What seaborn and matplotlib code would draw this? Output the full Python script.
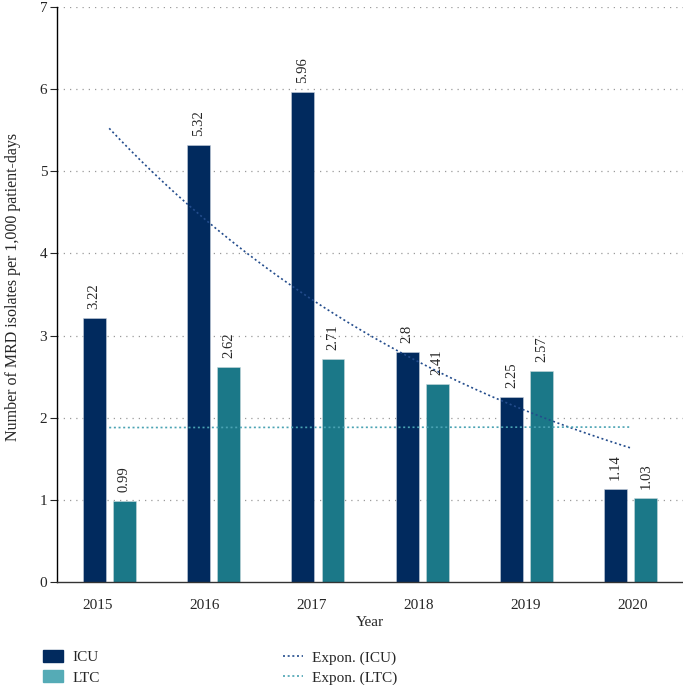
import numpy as np
import pandas as pd
import matplotlib.pyplot as plt
import seaborn as sns
from matplotlib.patches import Patch
from matplotlib.lines import Line2D

years = ["2015", "2016", "2017", "2018", "2019", "2020"]
icu = [3.22, 5.32, 5.96, 2.8, 2.25, 1.14]
ltc = [0.99, 2.62, 2.71, 2.41, 2.57, 1.03]

ICU_COL = "#012a5e"
LTC_COL = "#1b7888"
LTC_LEG = "#55abb6"
DOTS = (0, (1.2, 1.6))

sns.set_theme(style="white")
plt.rcParams["font.family"] = ["Liberation Serif", "DejaVu Serif"]

fig = plt.figure(figsize=(6.83, 6.85), dpi=100)
ax = fig.add_axes([0.0835, 0.150, 0.9165, 0.840])

x = np.arange(len(years))
w = 0.22
off = 0.145

for i in range(1, 8):
    ax.axhline(i, color="#9a9a9a", lw=0.9, ls=(0, (1, 4)), zorder=0)

ax.bar(x - off, icu, width=w, color=ICU_COL, edgecolor="#c8d0dc", lw=0.4, zorder=2)
ax.bar(x + off, ltc, width=w, color=LTC_COL, edgecolor="#c8d8dc", lw=0.4, zorder=2)

for xi, v in zip(x, icu):
    ax.text(xi - off, v + 0.11, f"{v:g}", rotation=90, ha="center", va="bottom", fontsize=10.5)
for xi, v in zip(x, ltc):
    ax.text(xi + off, v + 0.11, f"{v:g}", rotation=90, ha="center", va="bottom", fontsize=10.5)

# exponential trendlines (least squares on log values, like the spreadsheet does)
t = np.arange(1, len(years) + 1)
xs = np.linspace(1, len(years), 200)
for vals, col in [(icu, "#234c8c"), (ltc, "#4aa3b3")]:
    b, a = np.polyfit(t, np.log(vals), 1)
    trend = pd.DataFrame({"x": xs - 1, "y": np.exp(a + b * xs)})
    sns.lineplot(data=trend, x="x", y="y", ax=ax, color=col, lw=1.2, ls=DOTS, zorder=3)

ax.set_xlim(-0.5, 5.5)
ax.set_ylim(0, 7)
# year labels sit a little left of the bar groups in the original
ax.set_xticks(x - 0.11 + 0.025 * x)
ax.set_xticklabels(years, fontsize=11)
ax.set_yticks(range(8))
ax.tick_params(axis="y", labelsize=11, length=5, width=0.8, direction="out", left=True, pad=2)
ax.tick_params(axis="x", length=0, pad=12)
ax.set_xlabel("Year", fontsize=11, labelpad=3)
ax.set_ylabel("Number of MRD isolates per 1,000 patient-days", fontsize=11.5)
ax.yaxis.set_label_coords(-0.058, 0.513)
for s in ["top", "right"]:
    ax.spines[s].set_visible(False)
ax.spines["left"].set_color("black")
ax.spines["bottom"].set_color("#333333")
ax.spines["left"].set_linewidth(1.0)
ax.spines["bottom"].set_linewidth(1.0)

handles = [Patch(color=ICU_COL), Patch(color=LTC_LEG),
           Line2D([], [], color="#234c8c", lw=1.2, ls=DOTS),
           Line2D([], [], color="#4aa3b3", lw=1.2, ls=DOTS)]
labels = ["ICU", "LTC", "Expon. (ICU)", "Expon. (LTC)"]
fig.legend(handles, labels, ncol=2, loc="lower left", bbox_to_anchor=(0.043, -0.02),
           frameon=False, fontsize=11, columnspacing=12, handlelength=1.3,
           handleheight=0.8, handletextpad=0.6, labelspacing=0.4)

fig.savefig("out.png", dpi=100)
